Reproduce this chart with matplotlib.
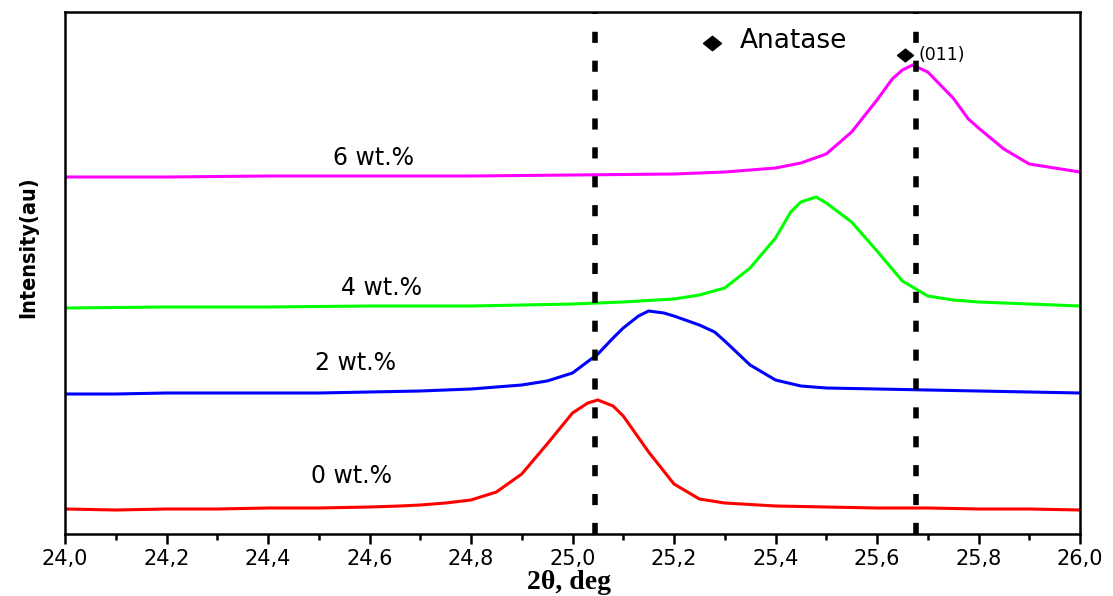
import numpy as np
import matplotlib
matplotlib.use('Agg')
import matplotlib.pyplot as plt
from matplotlib.path import Path
from matplotlib.ticker import MultipleLocator, FuncFormatter

# XRD patterns around the anatase (011) reflection, stacked with offsets
x_0wt = [24.00, 24.10, 24.20, 24.30, 24.40, 24.50, 24.60, 24.66, 24.70, 24.75,
         24.80, 24.85, 24.90, 24.95, 25.00, 25.03, 25.05, 25.08, 25.10, 25.15,
         25.20, 25.25, 25.30, 25.40, 25.50, 25.60, 25.70, 25.80, 25.90, 26.00]
y_0wt = [25, 24, 25, 25, 26, 26, 27, 28, 29, 31,
         34, 42, 60, 90, 121, 131, 134, 128, 118, 82,
         50, 35, 31, 28, 27, 26, 26, 25, 25, 24]

x_2wt = [24.00, 24.10, 24.20, 24.30, 24.40, 24.50, 24.60, 24.70, 24.80, 24.85,
         24.90, 24.95, 25.00, 25.05, 25.08, 25.10, 25.13, 25.15, 25.18, 25.20,
         25.25, 25.28, 25.30, 25.35, 25.40, 25.45, 25.50, 25.60, 25.70, 25.80,
         25.90, 26.00]
y_2wt = [140, 140, 141, 141, 141, 141, 142, 143, 145, 147,
         149, 153, 161, 180, 196, 206, 218, 223, 221, 218,
         209, 202, 193, 169, 154, 148, 146, 145, 144, 143,
         142, 141]

x_4wt = [24.00, 24.20, 24.40, 24.60, 24.80, 25.00, 25.10, 25.20, 25.25, 25.30,
         25.35, 25.40, 25.43, 25.45, 25.48, 25.50, 25.55, 25.60, 25.65, 25.70,
         25.75, 25.80, 25.90, 26.00]
y_4wt = [226, 227, 227, 228, 228, 230, 232, 235, 239, 246,
         266, 296, 322, 332, 337, 331, 312, 283, 253, 238,
         234, 232, 230, 228]

x_6wt = [24.00, 24.20, 24.40, 24.60, 24.80, 25.00, 25.20, 25.30, 25.40, 25.45,
         25.50, 25.55, 25.60, 25.63, 25.65, 25.67, 25.70, 25.75, 25.78, 25.80,
         25.85, 25.90, 26.00]
y_6wt = [357, 357, 358, 358, 358, 359, 360, 362, 366, 371,
         380, 402, 434, 455, 464, 469, 462, 436, 415, 406,
         385, 370, 362]

series = [
    (x_0wt, y_0wt, '#ff0000', '0 wt.%'),
    (x_2wt, y_2wt, '#0000ff', '2 wt.%'),
    (x_4wt, y_4wt, '#00ff00', '4 wt.%'),
    (x_6wt, y_6wt, '#ff00ff', '6 wt.%'),
]

# reference peak positions (dashed markers)
peak_lines = [25.045, 25.677]

fig = plt.figure(figsize=(11.13, 5.96), dpi=100)
ax = fig.add_axes([65 / 1113, 62 / 596, 1015 / 1113, 522 / 596])

for xs, ys, col, lab in series:
    ax.plot(xs, ys, color=col, lw=2.2, solid_joinstyle='round')

for xp in peak_lines:
    ax.axvline(xp, color='black', lw=4, linestyle=(0, (2.0, 3.2)),
               dash_capstyle='butt')

# curve labels
ax.text(24.607, 369, '6 wt.%', fontsize=17, ha='center', va='baseline')
ax.text(24.623, 239, '4 wt.%', fontsize=17, ha='center', va='baseline')
ax.text(24.573, 164, '2 wt.%', fontsize=17, ha='center', va='baseline')
ax.text(24.565, 51, '0 wt.%', fontsize=17, ha='center', va='baseline')

# anatase legend-like marker and (011) index
diamond = Path([(-1, 0), (0, -0.8), (1, 0), (0, 0.8), (-1, 0)],
               [Path.MOVETO, Path.LINETO, Path.LINETO, Path.LINETO, Path.CLOSEPOLY])
ax.plot([25.275], [491.5], marker=diamond, ms=13, color='black', ls='none')
ax.text(25.330, 486, 'Anatase', fontsize=19, ha='left', va='baseline')
ax.plot([25.655], [479], marker=diamond, ms=11.5, color='black', ls='none')
ax.text(25.681, 474, '(011)', fontsize=12.5, ha='left', va='baseline')

ax.set_xlim(24.0, 26.0)
ax.set_ylim(0, 522)

ax.xaxis.set_major_locator(MultipleLocator(0.2))
ax.xaxis.set_minor_locator(MultipleLocator(0.1))
ax.xaxis.set_major_formatter(FuncFormatter(lambda v, p: f'{v:.1f}'.replace('.', ',')))
ax.tick_params(axis='x', which='major', direction='out', length=7.5, width=1.8,
               labelsize=15, pad=3)
ax.tick_params(axis='x', which='minor', direction='out', length=4.3, width=1.8)
ax.set_yticks([])

for sp in ax.spines.values():
    sp.set_linewidth(1.8)

ax.set_xlabel('2θ, deg', family='Liberation Serif', fontweight='bold',
              fontsize=20, va='baseline')
ax.xaxis.set_label_coords(0.4966, -0.106)
ax.set_ylabel('Intensity(au)', family='DejaVu Sans', fontstretch='condensed',
              fontweight='bold', fontsize=15.5, va='center')
ax.yaxis.set_label_coords(-0.036, 0.55)

fig.savefig('out.png', dpi=100)
